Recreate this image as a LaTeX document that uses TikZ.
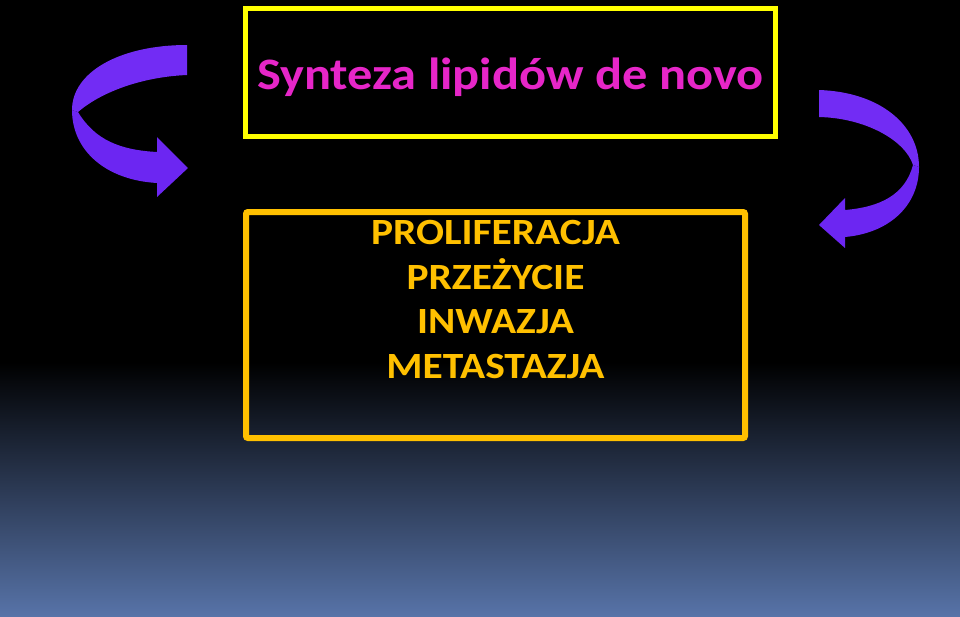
\documentclass[tikz,border=0pt]{standalone}
\usepackage{fontspec}
\setmainfont{Carlito}
\newfontfamily\widefont[FakeStretch=1.12]{Carlito}
\usetikzlibrary{positioning}

\definecolor{titlemagenta}{RGB}{230,38,200}
\definecolor{frameyellow}{RGB}{255,255,0}
\definecolor{framegold}{RGB}{255,192,0}
\definecolor{ribbon}{RGB}{108,38,242}
\definecolor{ribbontop}{RGB}{114,44,244}
\definecolor{bottomblue}{RGB}{87,115,168}

\tikzset{
  titlebox/.style={draw=frameyellow,line width=5pt,minimum width=529.5pt,minimum height=128pt,inner sep=0pt},
  effectbox/.style={draw=framegold,line width=6pt,rounded corners=2pt,minimum width=499pt,minimum height=226pt,inner sep=0pt},
  titletext/.style={text=titlemagenta,font=\widefont\bfseries\fontsize{45}{54}\selectfont},
  effecttext/.style={text=framegold,font=\widefont\bfseries\fontsize{37}{44.7}\selectfont,align=center,inner sep=0pt}
}

\begin{document}
\begin{tikzpicture}[x=1pt,y=-1pt]
    % Background
    \fill[black] (0,0) rectangle (960,616);
    \shade[top color=black,bottom color=bottomblue] (0,362) rectangle (960,616);
    \useasboundingbox (0,0) rectangle (960,616);

    % Boxes
    \node[titlebox] (title) at (510.25,72.5) {};
    \node[titletext] (titlelabel) at ([yshift=-5pt]title.center) {Synteza lipidów de novo};
    \node[effectbox] (effects) at (495.5,325) {};
    \node[effecttext,below=11pt of effects.north] (effectlist)
        {PROLIFERACJA\\PRZEŻYCIE\\INWAZJA\\METASTAZJA};

    % Left arrow
    \fill[ribbontop] (187,45) .. controls (120,45) and (72,72) .. (72,110)
        -- (78,112) .. controls (100,93) and (140,77) .. (187,75) -- cycle;
    \fill[ribbon] (72,110) -- (78,112) .. controls (95,140) and (120,150) .. (157,152)
        -- (157,137) -- (188,168) -- (157,197) -- (157,183)
        .. controls (105,180) and (72,150) .. (72,110) -- cycle;

    % Right arrow
    \fill[ribbontop] (819,90) .. controls (880,92) and (919,125) .. (919,167)
        -- (913,165) .. controls (905,140) and (865,118) .. (819,117) -- cycle;
    \fill[ribbon] (919,167) -- (913,165) .. controls (905,195) and (880,207) .. (845,210)
        -- (845,198) -- (819,225) -- (845,248) -- (845,237)
        .. controls (890,233) and (919,205) .. (919,167) -- cycle;
\end{tikzpicture}
\end{document}
